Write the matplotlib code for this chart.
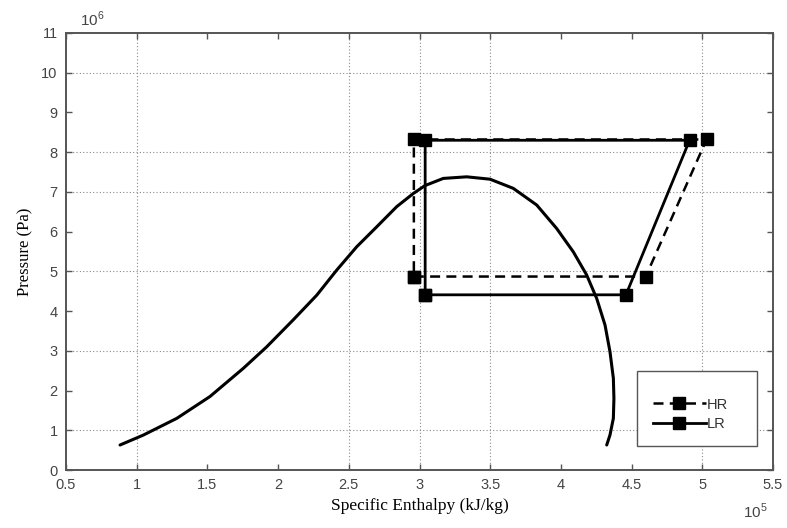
import matplotlib.pyplot as plt
from matplotlib.patches import Rectangle

plt.rcParams['mathtext.fontset'] = 'custom'
plt.rcParams['mathtext.rm'] = 'Liberation Sans'

# saturation dome (enthalpy in 1e5 J/kg, pressure in 1e6 Pa)
dome_h = [0.882, 1.047, 1.283, 1.518, 1.754, 1.919, 2.107, 2.273, 2.414, 2.556,
          2.697, 2.839, 2.956, 3.039, 3.168, 3.334, 3.499, 3.663, 3.829, 3.970,
          4.088, 4.182, 4.253, 4.312, 4.347, 4.371, 4.375, 4.371, 4.347, 4.324]
dome_p = [0.63, 0.88, 1.30, 1.85, 2.56, 3.10, 3.78, 4.40, 5.03, 5.62,
          6.12, 6.63, 6.96, 7.16, 7.34, 7.38, 7.32, 7.09, 6.67, 6.08,
          5.49, 4.91, 4.32, 3.65, 2.98, 2.31, 1.80, 1.30, 0.88, 0.63]

# high-side / low-side cycles
hr_h = [2.96, 4.60, 5.03, 2.96, 2.96]
hr_p = [4.87, 4.87, 8.32, 8.32, 4.87]
lr_h = [3.04, 4.46, 4.91, 3.04, 3.04]
lr_p = [4.41, 4.41, 8.30, 8.30, 4.41]

xticks = [0.5, 1, 1.5, 2, 2.5, 3, 3.5, 4, 4.5, 5, 5.5]
xtick_labels = ['0.5', '1', '1.5', '2', '2.5', '3', '3.5', '4', '4.5', '5', '5.5']
yticks = list(range(0, 12))
xgrid = [1, 2.5, 3, 3.5, 5]
ygrid = [1, 3, 5, 7, 8, 10]

axis_gray = '#555555'

fig = plt.figure(figsize=(7.87, 5.28), dpi=100)
ax = fig.add_axes([0.0839, 0.1098, 0.8983, 0.8277])

for gx in xgrid:
    ax.axvline(gx, color='#8a8a8a', ls=(0, (1, 2)), lw=0.8, zorder=0)
for gy in ygrid:
    ax.axhline(gy, color='#8a8a8a', ls=(0, (1, 2)), lw=0.8, zorder=0)

ax.plot(dome_h, dome_p, color='black', lw=2.2, solid_capstyle='round',
        solid_joinstyle='round', zorder=3)
ax.plot(hr_h, hr_p, color='black', lw=1.8, ls=(0, (4, 2.5)), marker='s',
        ms=8.5, label='HR', zorder=4)
ax.plot(lr_h, lr_p, color='black', lw=2.0, marker='s', ms=8.5, label='LR', zorder=5)

ax.set_xlim(0.5, 5.5)
ax.set_ylim(0, 11)
ax.set_xticks(xticks)
ax.set_xticklabels(xtick_labels)
ax.set_yticks(yticks)

ax.tick_params(direction='in', top=True, right=True, length=4, width=1,
               color=axis_gray, labelcolor='#444444', labelsize=10.5, pad=6)
for lab in ax.get_xticklabels() + ax.get_yticklabels():
    lab.set_fontfamily('Liberation Sans')
for sp in ax.spines.values():
    sp.set_color(axis_gray)
    sp.set_linewidth(1.4)

ax.set_xlabel('Specific Enthalpy (kJ/kg)', family='Liberation Serif', fontsize=12.5,
              labelpad=4)
ax.set_ylabel('Pressure (Pa)', family='Liberation Serif', fontsize=12, labelpad=6)

fig.text(0.1017, 0.946, r'$10^{6}$', color='#444444', fontsize=11,
         ha='left', va='bottom')
fig.text(0.944, 0.014, r'$10^{5}$', color='#444444', fontsize=11,
         ha='left', va='bottom')

# legend box
ax.add_patch(Rectangle((0.808, 0.055), 0.169, 0.172, transform=ax.transAxes,
                       facecolor='white', edgecolor='#555555', lw=1.0, zorder=6))
leg = ax.legend(loc='lower left', bbox_to_anchor=(0.812, 0.06), frameon=False,
                handlelength=3.6, handletextpad=0.1, labelspacing=0.35,
                prop={'family': 'Liberation Sans', 'size': 10.5})
leg.set_zorder(7)
for t in leg.get_texts():
    t.set_color('#333333')

fig.savefig('out.png', dpi=100)
